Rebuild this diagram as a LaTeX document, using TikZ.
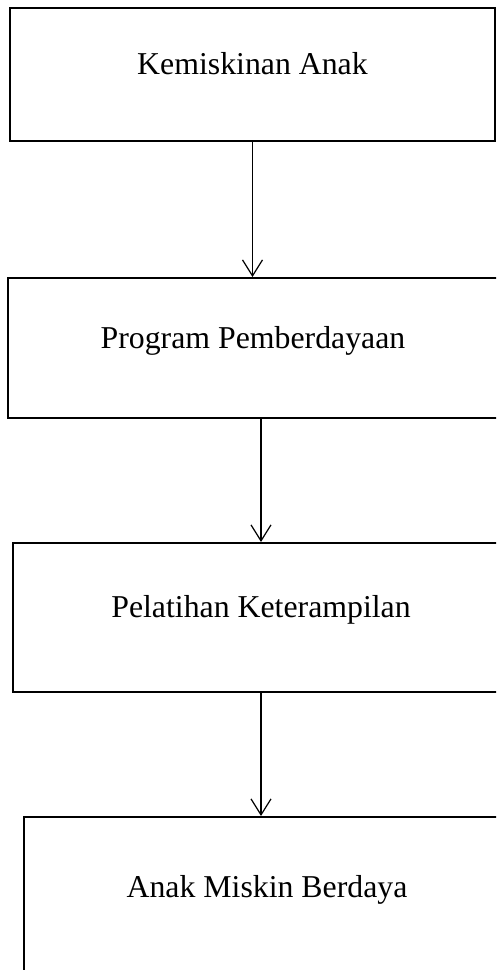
\documentclass[tikz,border=0pt]{standalone}
\usepackage{fontspec}
\setmainfont{Liberation Serif}
\usepackage{tikz}
\usetikzlibrary{arrows.meta}
\tikzset{
Kotak/.style={
 draw=black, 
 line width=2pt, 
 rectangle, 
 inner sep=0pt, 
 text height=8pt, 
 text depth=8pt, 
 font=\fontsize{31.8}{38}\selectfont
 },
Panah/.style={
 draw=black, 
 line width=1.2pt, 
 -{Straight Barb[length=16pt,width=20pt]}
 }
}
\begin{document}
\begin{tikzpicture}[x=1pt,y=-1pt]
\useasboundingbox (0,0) rectangle (496,970);
\clip (0,0) rectangle (496,970);
\node[Kotak,minimum width=485pt,minimum height=133pt] (kemiskinan) at (252.5,74.5) {Kemiskinan Anak};
\node[Kotak,minimum width=490pt,minimum height=140pt] (program) at (253,348) {Program Pemberdayaan};
\node[Kotak,minimum width=496pt,minimum height=149pt] (pelatihan) at (261,617.5) {Pelatihan Keterampilan};
\node[Kotak,minimum width=486pt,minimum height=160pt] (berdaya) at (267,897) {Anak Miskin Berdaya};
\draw[Panah] (kemiskinan.south) -- (kemiskinan.south |- program.north);
\draw[Panah] (program.south -| pelatihan.north) -- (pelatihan.north);
\draw[Panah] (pelatihan.south) -- (pelatihan.south |- berdaya.north);
\end{tikzpicture}
\end{document}
